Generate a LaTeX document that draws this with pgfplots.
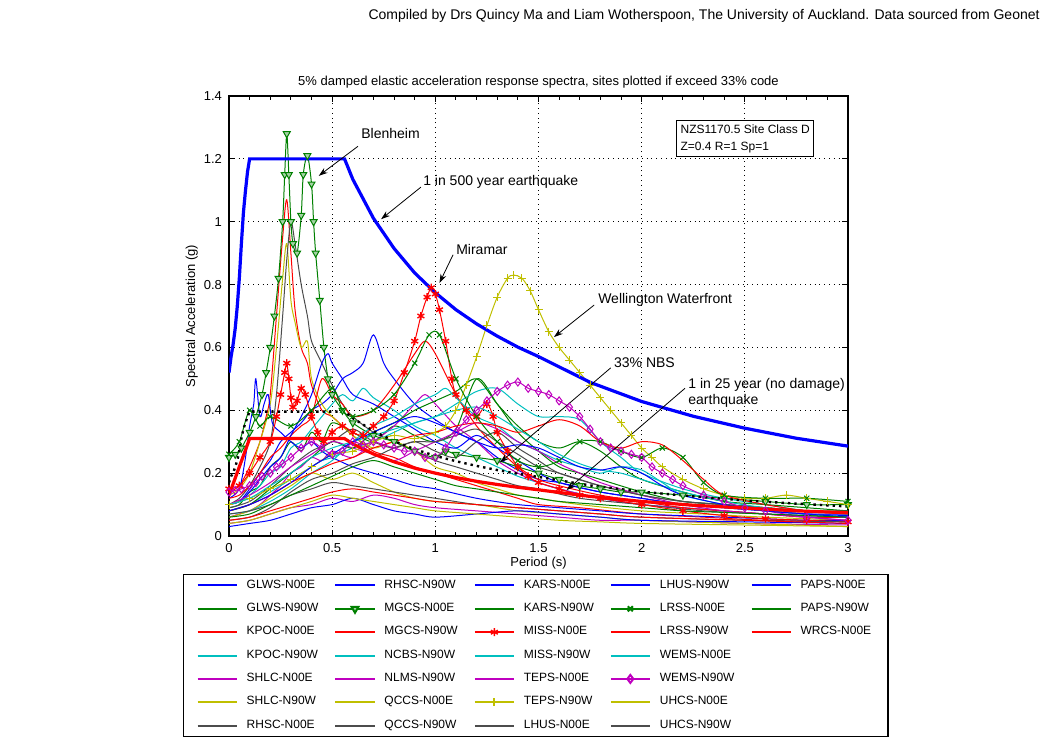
\documentclass[border=0pt]{standalone}
\usepackage{fontspec}
\setmainfont{Liberation Sans}
\usepackage{pgfplots}
\pgfplotsset{compat=1.18}
\usetikzlibrary{arrows.meta}

\definecolor{mb}{rgb}{0,0,1}
\definecolor{mg}{rgb}{0,0.5,0}
\definecolor{mr}{rgb}{1,0,0}
\definecolor{mc}{rgb}{0,0.75,0.75}
\definecolor{mm}{rgb}{0.75,0,0.75}
\definecolor{my}{rgb}{0.75,0.75,0}
\definecolor{mk}{rgb}{0.3,0.3,0.3}

\newcommand{\fa}{\fontsize{6.5}{7.5}\selectfont}
\newcommand{\fb}{\fontsize{7}{8}\selectfont}
\newcommand{\fl}{\fontsize{6}{7}\selectfont}
\newcommand{\fn}{\fontsize{6}{8.5}\selectfont}

\pgfplotsset{
  rec/.style={line width=0.5pt, smooth, mark=none},
  cb/.style={rec, color=mb}, cg/.style={rec, color=mg}, cr/.style={rec, color=mr},
  cc/.style={rec, color=mc}, cm/.style={rec, color=mm}, cy/.style={rec, color=my},
  ck/.style={rec, color=mk},
  mgt/.style={rec, color=mg, mark=triangle*, mark size=2pt, mark options={rotate=180, solid, fill=mg!35!white}},
  mrs/.style={rec, color=mr, mark=asterisk, mark size=2pt, mark options={line width=0.7pt}},
  myp/.style={rec, color=my, mark=+, mark size=2pt},
  mgx/.style={rec, color=mg, mark=x, mark size=1.8pt},
  mmd/.style={rec, color=mm, mark=diamond, mark size=2pt},
}
\tikzset{arr/.style={-{Stealth[length=4.5pt,width=3pt]}, line width=0.4pt, black}}

\begin{document}
\begin{tikzpicture}
\path[use as bounding box] (0,0) rectangle (525pt,-372pt);
\node[anchor=base east, font=\fb, inner sep=0pt] at (520pt,-9.5pt)
  {Compiled by Drs Quincy Ma and Liam Wotherspoon, The University of Auckland. Data sourced from Geonet};
\begin{axis}[
    at={(114.5pt,-268pt)}, anchor=south west,
    scale only axis, width=309.5pt, height=220pt,
    xmin=0, xmax=3, ymin=0, ymax=1.4,
    xtick={0,0.5,1,1.5,2,2.5,3},
    ytick={0,0.2,0.4,0.6,0.8,1,1.2,1.4},
    minor x tick num=4,
    grid=major, major grid style={black, dotted, line width=0.5pt},
    axis line style={line width=0.6pt},
    tick style={black, line width=0.5pt},
    major tick length=3pt, minor tick length=1.8pt,
    tick label style={font=\fa, /pgf/number format/assume math mode=true},
    label style={font=\fa},
    xlabel={Period (s)}, ylabel={Spectral Acceleration (g)},
    xlabel style={at={(axis description cs:0.5,-0.061)}, anchor=center},
    ylabel style={at={(axis description cs:-0.06,0.5)}, anchor=center},
    title={5\% damped elastic acceleration response spectra, sites plotted if exceed 33\% code},
    title style={font=\fa, at={(axis description cs:0.5,1)}, anchor=base, yshift=-0.5pt},
    legend columns=5, legend cell align=left,
    legend image code/.code={\draw[mark repeat=2,mark phase=2,#1,line width=1pt] plot coordinates {(0pt,0pt) (9.75pt,0pt) (19.5pt,0pt)};},
    legend style={at={(axis description cs:-0.0743,-0.0864)}, anchor=north west,
      draw=black, line width=0.7pt, font=\fl, inner xsep=6.5pt, inner ysep=0.5pt, row sep=2.0pt,
      /tikz/every odd column/.append style={column sep=2.5pt},
      /tikz/every even column/.append style={column sep=6pt}},
]
% ---- individual records ----
\addplot[cb, forget plot] coordinates {(0,0.1)(0.05,0.11)(0.1,0.15)(0.15,0.2)(0.2,0.24)(0.25,0.3)(0.3,0.33)(0.35,0.36)(0.4,0.4)(0.45,0.42)(0.5,0.45)(0.55,0.5)(0.6,0.52)(0.65,0.55)(0.7,0.64)(0.75,0.55)(0.8,0.5)(0.9,0.42)(1.0,0.37)(1.1,0.33)(1.2,0.3)(1.3,0.25)(1.4,0.21)(1.5,0.18)(1.6,0.17)(1.8,0.14)(2.0,0.12)(2.2,0.1)(2.4,0.09)(2.6,0.08)(2.8,0.07)(3.0,0.07)};
\addplot[cg, forget plot] coordinates {(0,0.09)(0.05,0.1)(0.1,0.14)(0.15,0.16)(0.2,0.22)(0.25,0.25)(0.3,0.3)(0.35,0.27)(0.4,0.33)(0.45,0.3)(0.5,0.36)(0.6,0.33)(0.7,0.3)(0.8,0.35)(0.9,0.32)(1.0,0.3)(1.1,0.34)(1.2,0.5)(1.3,0.42)(1.4,0.33)(1.5,0.27)(1.6,0.22)(1.7,0.2)(1.8,0.18)(2.0,0.14)(2.2,0.11)(2.4,0.1)(2.6,0.09)(2.8,0.08)(3.0,0.08)};
\addplot[cr, forget plot] coordinates {(0,0.14)(0.05,0.16)(0.1,0.22)(0.15,0.3)(0.18,0.38)(0.2,0.45)(0.23,0.7)(0.26,0.95)(0.28,1.07)(0.3,0.9)(0.32,0.72)(0.35,0.6)(0.38,0.55)(0.4,0.48)(0.45,0.4)(0.5,0.38)(0.55,0.35)(0.6,0.32)(0.7,0.27)(0.8,0.25)(0.9,0.22)(1.0,0.2)(1.1,0.18)(1.2,0.16)(1.3,0.14)(1.4,0.12)(1.5,0.1)(1.7,0.09)(2.0,0.07)(2.3,0.06)(2.6,0.05)(3.0,0.045)};
\addplot[cc, forget plot] coordinates {(0,0.1)(0.05,0.11)(0.1,0.13)(0.15,0.16)(0.2,0.2)(0.25,0.22)(0.3,0.28)(0.35,0.3)(0.4,0.34)(0.45,0.38)(0.5,0.42)(0.55,0.45)(0.6,0.43)(0.65,0.47)(0.7,0.44)(0.8,0.4)(0.9,0.35)(1.0,0.32)(1.1,0.28)(1.2,0.25)(1.3,0.22)(1.4,0.19)(1.5,0.17)(1.6,0.15)(1.8,0.12)(2.0,0.1)(2.2,0.09)(2.4,0.08)(2.6,0.07)(2.8,0.065)(3.0,0.06)};
\addplot[cm, forget plot] coordinates {(0,0.06)(0.05,0.07)(0.1,0.08)(0.15,0.1)(0.2,0.13)(0.25,0.16)(0.3,0.2)(0.35,0.22)(0.4,0.25)(0.45,0.24)(0.5,0.27)(0.6,0.25)(0.7,0.3)(0.8,0.35)(0.9,0.42)(0.95,0.45)(1.0,0.42)(1.1,0.35)(1.2,0.3)(1.3,0.24)(1.4,0.2)(1.5,0.17)(1.6,0.15)(1.8,0.12)(2.0,0.1)(2.2,0.09)(2.4,0.08)(2.6,0.07)(2.8,0.06)(3.0,0.06)};
\addplot[cy, forget plot] coordinates {(0,0.13)(0.05,0.15)(0.1,0.2)(0.15,0.3)(0.2,0.42)(0.23,0.6)(0.26,0.82)(0.28,0.93)(0.3,0.75)(0.32,0.68)(0.35,0.6)(0.38,0.62)(0.4,0.5)(0.45,0.42)(0.5,0.38)(0.55,0.35)(0.6,0.32)(0.7,0.28)(0.8,0.3)(0.9,0.27)(1.0,0.22)(1.1,0.2)(1.2,0.17)(1.3,0.15)(1.4,0.13)(1.5,0.12)(1.7,0.1)(2.0,0.08)(2.3,0.07)(2.6,0.06)(3.0,0.05)};
\addplot[ck, forget plot] coordinates {(0,0.1)(0.05,0.12)(0.1,0.16)(0.15,0.22)(0.2,0.3)(0.23,0.45)(0.26,0.7)(0.28,0.88)(0.3,1.0)(0.32,0.93)(0.35,0.8)(0.38,0.7)(0.4,0.62)(0.45,0.55)(0.5,0.48)(0.55,0.42)(0.6,0.38)(0.7,0.33)(0.8,0.3)(0.9,0.27)(1.0,0.24)(1.1,0.22)(1.2,0.2)(1.3,0.18)(1.4,0.16)(1.5,0.15)(1.7,0.12)(2.0,0.1)(2.3,0.08)(2.6,0.07)(3.0,0.06)};
\addplot[cb, forget plot] coordinates {(0,0.12)(0.05,0.15)(0.08,0.25)(0.1,0.35)(0.12,0.42)(0.13,0.5)(0.15,0.38)(0.17,0.42)(0.19,0.45)(0.21,0.36)(0.25,0.33)(0.3,0.3)(0.35,0.28)(0.4,0.3)(0.45,0.27)(0.5,0.25)(0.6,0.22)(0.7,0.2)(0.8,0.18)(0.9,0.16)(1.0,0.15)(1.2,0.12)(1.4,0.1)(1.6,0.09)(1.8,0.08)(2.0,0.07)(2.4,0.06)(2.8,0.05)(3.0,0.05)};
\addplot[mgt, forget plot] coordinates {(0,0.25)(0.03,0.26)(0.06,0.28)(0.1,0.33)(0.13,0.38)(0.16,0.45)(0.18,0.52)(0.2,0.6)(0.22,0.7)(0.24,0.82)(0.26,1.0)(0.27,1.15)(0.28,1.28)(0.29,1.15)(0.3,1.0)(0.31,0.93)(0.33,0.9)(0.35,1.02)(0.36,1.15)(0.38,1.21)(0.4,1.12)(0.41,1.0)(0.42,0.9)(0.44,0.75)(0.46,0.6)(0.48,0.5)(0.5,0.45)(0.55,0.4)(0.6,0.36)(0.7,0.32)(0.8,0.3)(0.9,0.27)(1.0,0.25)(1.05,0.27)(1.1,0.26)(1.2,0.25)(1.3,0.24)(1.4,0.22)(1.5,0.2)(1.6,0.18)(1.7,0.16)(1.8,0.15)(1.9,0.14)(2.0,0.14)(2.2,0.13)(2.4,0.12)(2.6,0.11)(2.8,0.1)(3.0,0.1)};
\addplot[cr, forget plot] coordinates {(0,0.12)(0.05,0.13)(0.1,0.16)(0.15,0.2)(0.2,0.25)(0.25,0.28)(0.3,0.32)(0.35,0.35)(0.4,0.38)(0.45,0.5)(0.5,0.45)(0.55,0.42)(0.6,0.38)(0.7,0.4)(0.8,0.48)(0.9,0.58)(0.95,0.62)(1.0,0.58)(1.1,0.45)(1.2,0.35)(1.3,0.28)(1.4,0.22)(1.5,0.18)(1.6,0.16)(1.8,0.13)(2.0,0.11)(2.2,0.09)(2.4,0.08)(2.6,0.07)(2.8,0.06)(3.0,0.06)};
\addplot[cc, forget plot] coordinates {(0,0.08)(0.05,0.09)(0.1,0.1)(0.15,0.12)(0.2,0.14)(0.25,0.16)(0.3,0.18)(0.35,0.2)(0.4,0.22)(0.45,0.24)(0.5,0.25)(0.6,0.28)(0.7,0.3)(0.8,0.33)(0.9,0.36)(1.0,0.38)(1.1,0.42)(1.2,0.46)(1.3,0.47)(1.4,0.42)(1.5,0.38)(1.6,0.38)(1.7,0.37)(1.8,0.3)(1.9,0.25)(2.0,0.2)(2.2,0.15)(2.4,0.12)(2.6,0.1)(2.8,0.08)(3.0,0.07)};
\addplot[cm, forget plot] coordinates {(0,0.04)(0.1,0.05)(0.2,0.07)(0.3,0.09)(0.4,0.1)(0.5,0.12)(0.6,0.11)(0.7,0.13)(0.8,0.12)(0.9,0.1)(1.0,0.09)(1.2,0.08)(1.4,0.07)(1.6,0.06)(1.8,0.05)(2.0,0.05)(2.5,0.04)(3.0,0.035)};
\addplot[cy, forget plot] coordinates {(0,0.06)(0.1,0.08)(0.2,0.12)(0.3,0.16)(0.4,0.2)(0.5,0.18)(0.6,0.2)(0.7,0.17)(0.8,0.14)(0.9,0.12)(1.0,0.11)(1.2,0.1)(1.4,0.08)(1.6,0.07)(1.8,0.06)(2.0,0.05)(2.5,0.04)(3.0,0.03)};
\addplot[ck, forget plot] coordinates {(0,0.09)(0.1,0.11)(0.2,0.16)(0.3,0.22)(0.4,0.27)(0.5,0.3)(0.6,0.34)(0.7,0.3)(0.8,0.28)(0.9,0.3)(1.0,0.27)(1.1,0.25)(1.2,0.3)(1.3,0.33)(1.4,0.28)(1.5,0.24)(1.6,0.2)(1.8,0.16)(2.0,0.13)(2.2,0.11)(2.4,0.1)(2.6,0.09)(2.8,0.08)(3.0,0.07)};
\addplot[cb, forget plot] coordinates {(0,0.1)(0.05,0.11)(0.1,0.14)(0.15,0.18)(0.2,0.22)(0.25,0.25)(0.3,0.32)(0.35,0.38)(0.4,0.45)(0.45,0.55)(0.48,0.58)(0.5,0.55)(0.55,0.5)(0.6,0.45)(0.7,0.42)(0.8,0.38)(0.9,0.34)(1.0,0.3)(1.1,0.28)(1.2,0.32)(1.3,0.28)(1.4,0.24)(1.5,0.2)(1.6,0.17)(1.8,0.14)(2.0,0.12)(2.2,0.1)(2.4,0.09)(2.6,0.08)(2.8,0.07)(3.0,0.065)};
\addplot[cg, forget plot] coordinates {(0,0.08)(0.1,0.1)(0.2,0.15)(0.3,0.2)(0.4,0.25)(0.5,0.3)(0.6,0.28)(0.7,0.33)(0.8,0.36)(0.9,0.4)(1.0,0.43)(1.1,0.46)(1.2,0.5)(1.3,0.42)(1.4,0.35)(1.5,0.3)(1.6,0.28)(1.7,0.3)(1.8,0.27)(1.9,0.22)(2.0,0.18)(2.2,0.14)(2.4,0.11)(2.6,0.1)(2.8,0.09)(3.0,0.08)};
\addplot[mrs, forget plot] coordinates {(0,0.15)(0.05,0.16)(0.1,0.2)(0.15,0.25)(0.2,0.3)(0.23,0.38)(0.25,0.45)(0.27,0.52)(0.28,0.55)(0.29,0.5)(0.3,0.44)(0.31,0.41)(0.33,0.43)(0.35,0.47)(0.37,0.45)(0.4,0.38)(0.43,0.33)(0.46,0.3)(0.5,0.33)(0.55,0.35)(0.6,0.33)(0.65,0.32)(0.7,0.35)(0.75,0.38)(0.8,0.43)(0.85,0.52)(0.9,0.62)(0.93,0.7)(0.96,0.76)(0.98,0.79)(1.0,0.77)(1.02,0.72)(1.05,0.62)(1.08,0.5)(1.1,0.45)(1.15,0.4)(1.2,0.38)(1.25,0.42)(1.28,0.38)(1.3,0.33)(1.35,0.27)(1.4,0.22)(1.45,0.19)(1.5,0.17)(1.6,0.15)(1.7,0.13)(1.8,0.12)(2.0,0.1)(2.2,0.08)(2.4,0.065)(2.6,0.055)(2.8,0.05)(3.0,0.045)};
\addplot[cc, forget plot] coordinates {(0,0.07)(0.1,0.08)(0.2,0.11)(0.3,0.15)(0.4,0.2)(0.5,0.24)(0.6,0.3)(0.7,0.35)(0.8,0.38)(0.9,0.42)(1.0,0.45)(1.05,0.47)(1.1,0.44)(1.2,0.38)(1.3,0.35)(1.4,0.3)(1.5,0.27)(1.6,0.24)(1.7,0.22)(1.8,0.2)(1.9,0.22)(2.0,0.21)(2.1,0.17)(2.2,0.13)(2.4,0.1)(2.6,0.08)(2.8,0.07)(3.0,0.06)};
\addplot[cm, forget plot] coordinates {(0,0.1)(0.1,0.13)(0.2,0.17)(0.3,0.22)(0.4,0.26)(0.5,0.3)(0.6,0.28)(0.7,0.26)(0.8,0.24)(0.9,0.27)(1.0,0.3)(1.1,0.33)(1.2,0.36)(1.3,0.34)(1.4,0.3)(1.5,0.27)(1.6,0.23)(1.7,0.2)(1.8,0.17)(2.0,0.13)(2.2,0.1)(2.4,0.08)(2.6,0.07)(2.8,0.06)(3.0,0.05)};
\addplot[myp, forget plot] coordinates {(0,0.1)(0.1,0.12)(0.2,0.15)(0.3,0.18)(0.4,0.22)(0.5,0.26)(0.6,0.27)(0.7,0.3)(0.8,0.32)(0.9,0.31)(1.0,0.33)(1.05,0.35)(1.1,0.4)(1.15,0.48)(1.2,0.57)(1.25,0.67)(1.3,0.76)(1.35,0.82)(1.38,0.83)(1.42,0.82)(1.46,0.78)(1.5,0.72)(1.55,0.65)(1.6,0.6)(1.65,0.56)(1.7,0.52)(1.75,0.48)(1.8,0.44)(1.85,0.4)(1.9,0.36)(1.95,0.32)(2.0,0.28)(2.05,0.25)(2.1,0.22)(2.2,0.18)(2.3,0.15)(2.4,0.13)(2.5,0.12)(2.6,0.12)(2.7,0.13)(2.8,0.12)(2.9,0.11)(3.0,0.1)};
\addplot[ck, forget plot] coordinates {(0,0.05)(0.1,0.06)(0.2,0.09)(0.3,0.14)(0.4,0.18)(0.5,0.2)(0.6,0.23)(0.7,0.25)(0.8,0.28)(0.9,0.3)(1.0,0.3)(1.1,0.32)(1.2,0.34)(1.3,0.3)(1.4,0.26)(1.5,0.22)(1.6,0.2)(1.7,0.18)(1.8,0.16)(2.0,0.13)(2.2,0.11)(2.4,0.1)(2.6,0.09)(2.8,0.08)(3.0,0.08)};
\addplot[cb, forget plot] coordinates {(0,0.03)(0.1,0.04)(0.2,0.05)(0.3,0.07)(0.4,0.09)(0.5,0.1)(0.6,0.12)(0.7,0.1)(0.8,0.08)(0.9,0.07)(1.0,0.06)(1.2,0.07)(1.4,0.08)(1.6,0.07)(1.8,0.06)(2.0,0.05)(2.5,0.045)(3.0,0.04)};
\addplot[mgx, forget plot] coordinates {(0,0.26)(0.05,0.3)(0.1,0.4)(0.15,0.35)(0.2,0.38)(0.3,0.35)(0.4,0.4)(0.5,0.47)(0.55,0.4)(0.6,0.38)(0.7,0.4)(0.8,0.45)(0.9,0.55)(0.97,0.64)(1.02,0.64)(1.1,0.5)(1.2,0.38)(1.3,0.3)(1.4,0.24)(1.5,0.22)(1.6,0.24)(1.7,0.3)(1.8,0.3)(1.9,0.27)(2.0,0.25)(2.1,0.28)(2.2,0.25)(2.3,0.17)(2.4,0.13)(2.6,0.12)(2.8,0.12)(3.0,0.11)};
\addplot[cr, forget plot] coordinates {(0,0.08)(0.1,0.1)(0.2,0.13)(0.3,0.17)(0.4,0.2)(0.5,0.23)(0.6,0.25)(0.7,0.28)(0.8,0.3)(0.9,0.32)(1.0,0.33)(1.1,0.35)(1.2,0.36)(1.3,0.35)(1.4,0.33)(1.5,0.35)(1.6,0.37)(1.7,0.35)(1.8,0.3)(1.9,0.28)(2.0,0.3)(2.1,0.29)(2.2,0.24)(2.3,0.18)(2.4,0.13)(2.6,0.1)(2.8,0.08)(3.0,0.07)};
\addplot[cc, forget plot] coordinates {(0,0.1)(0.1,0.12)(0.2,0.16)(0.3,0.2)(0.4,0.25)(0.5,0.28)(0.6,0.3)(0.7,0.32)(0.8,0.34)(0.9,0.36)(1.0,0.38)(1.1,0.4)(1.2,0.41)(1.3,0.38)(1.4,0.34)(1.5,0.3)(1.6,0.26)(1.7,0.23)(1.8,0.21)(1.9,0.2)(2.0,0.18)(2.2,0.14)(2.4,0.11)(2.6,0.09)(2.8,0.08)(3.0,0.07)};
\addplot[mmd, forget plot] coordinates {(0,0.14)(0.03,0.145)(0.06,0.15)(0.1,0.16)(0.13,0.17)(0.16,0.19)(0.2,0.2)(0.23,0.22)(0.26,0.23)(0.3,0.25)(0.35,0.28)(0.4,0.3)(0.45,0.28)(0.5,0.26)(0.55,0.27)(0.6,0.3)(0.65,0.29)(0.7,0.3)(0.75,0.29)(0.8,0.28)(0.85,0.27)(0.9,0.27)(0.95,0.25)(1.0,0.25)(1.05,0.28)(1.1,0.33)(1.15,0.37)(1.2,0.4)(1.25,0.43)(1.3,0.46)(1.35,0.48)(1.4,0.49)(1.45,0.47)(1.5,0.46)(1.55,0.45)(1.6,0.43)(1.65,0.41)(1.7,0.38)(1.75,0.34)(1.8,0.3)(1.85,0.28)(1.9,0.27)(1.95,0.26)(2.0,0.25)(2.05,0.22)(2.1,0.2)(2.15,0.18)(2.2,0.16)(2.3,0.13)(2.4,0.11)(2.5,0.09)(2.6,0.08)(2.8,0.06)(3.0,0.05)};
\addplot[cy, forget plot] coordinates {(0,0.04)(0.1,0.05)(0.2,0.07)(0.3,0.09)(0.4,0.11)(0.5,0.13)(0.6,0.12)(0.7,0.11)(0.8,0.1)(0.9,0.09)(1.0,0.08)(1.2,0.07)(1.4,0.06)(1.6,0.05)(1.8,0.045)(2.0,0.04)(2.5,0.035)(3.0,0.03)};
\addplot[ck, forget plot] coordinates {(0,0.07)(0.1,0.08)(0.2,0.1)(0.3,0.13)(0.4,0.15)(0.5,0.17)(0.6,0.16)(0.7,0.15)(0.8,0.14)(0.9,0.13)(1.0,0.12)(1.2,0.1)(1.4,0.09)(1.6,0.08)(1.8,0.07)(2.0,0.06)(2.5,0.05)(3.0,0.045)};
\addplot[cb, forget plot] coordinates {(0,0.08)(0.1,0.1)(0.2,0.13)(0.3,0.17)(0.4,0.22)(0.5,0.26)(0.6,0.3)(0.7,0.33)(0.8,0.36)(0.9,0.38)(1.0,0.36)(1.1,0.33)(1.2,0.3)(1.3,0.28)(1.4,0.29)(1.5,0.28)(1.6,0.25)(1.7,0.22)(1.8,0.21)(1.9,0.22)(2.0,0.2)(2.1,0.16)(2.2,0.13)(2.4,0.1)(2.6,0.08)(2.8,0.07)(3.0,0.06)};
\addplot[cg, forget plot] coordinates {(0,0.06)(0.1,0.07)(0.2,0.1)(0.3,0.13)(0.4,0.16)(0.5,0.19)(0.6,0.22)(0.7,0.24)(0.8,0.22)(0.9,0.2)(1.0,0.18)(1.1,0.16)(1.2,0.15)(1.3,0.14)(1.4,0.13)(1.5,0.12)(1.6,0.11)(1.8,0.1)(2.0,0.09)(2.2,0.08)(2.4,0.075)(2.6,0.07)(2.8,0.065)(3.0,0.06)};
\addplot[cr, forget plot] coordinates {(0,0.05)(0.1,0.06)(0.2,0.08)(0.3,0.1)(0.4,0.12)(0.5,0.14)(0.6,0.15)(0.7,0.14)(0.8,0.13)(0.9,0.12)(1.0,0.11)(1.2,0.1)(1.4,0.09)(1.6,0.08)(1.8,0.07)(2.0,0.06)(2.5,0.05)(3.0,0.04)};
% ---- code spectra ----
\addplot[black, dotted, line width=1.2pt, forget plot] coordinates {(0,0.17)(0.01,0.19)(0.02,0.2)(0.03,0.22)(0.04,0.24)(0.05,0.27)(0.06,0.31)(0.07,0.34)(0.08,0.36)(0.09,0.38)(0.1,0.396)(0.56,0.396)(0.6,0.375)(0.7,0.334)(0.8,0.302)(0.9,0.276)(1.0,0.255)(1.1,0.238)(1.2,0.223)(1.3,0.21)(1.4,0.198)(1.5,0.188)(1.75,0.161)(2.0,0.141)(2.25,0.126)(2.5,0.113)(2.75,0.103)(3.0,0.094)};
\addplot[mr, line width=1.6pt, forget plot] coordinates {(0,0.13)(0.1,0.31)(0.56,0.31)(0.6,0.293)(0.7,0.261)(0.8,0.236)(0.9,0.216)(1.0,0.2)(1.1,0.186)(1.2,0.174)(1.3,0.164)(1.4,0.155)(1.5,0.147)(1.75,0.126)(2.0,0.11)(2.25,0.098)(2.5,0.089)(2.75,0.08)(3.0,0.074)};
\addplot[mb, line width=1.6pt, forget plot] coordinates {(0,0.52)(0.01,0.57)(0.02,0.61)(0.03,0.66)(0.04,0.73)(0.05,0.82)(0.06,0.93)(0.07,1.03)(0.08,1.1)(0.09,1.16)(0.1,1.2)(0.56,1.2)(0.6,1.135)(0.7,1.011)(0.8,0.915)(0.9,0.837)(1.0,0.774)(1.1,0.72)(1.2,0.675)(1.3,0.636)(1.4,0.601)(1.5,0.571)(1.75,0.489)(2.0,0.428)(2.25,0.381)(2.5,0.343)(2.75,0.311)(3.0,0.286)};
% ---- annotations ----
\draw[arr] (axis cs:0.625,1.24) -- (axis cs:0.435,1.146);
\node[anchor=west, font=\fb, inner sep=1pt] at (axis cs:0.63,1.282) {Blenheim};
\draw[arr] (axis cs:0.93,1.11) -- (axis cs:0.737,1.008);
\node[anchor=west, font=\fb, inner sep=1pt] at (axis cs:0.93,1.126) {1 in 500 year earthquake};
\draw[arr] (axis cs:1.086,0.895) -- (axis cs:1.02,0.805);
\node[anchor=west, font=\fb, inner sep=1pt] at (axis cs:1.09,0.913) {Miramar};
\draw[arr] (axis cs:1.77,0.735) -- (axis cs:1.575,0.633);
\node[anchor=west, font=\fb, inner sep=1pt] at (axis cs:1.778,0.75) {Wellington Waterfront};
\draw[arr] (axis cs:1.85,0.535) -- (axis cs:1.314,0.234);
\node[anchor=west, font=\fb, inner sep=1pt] at (axis cs:1.855,0.55) {33\% NBS};
\draw[arr] (axis cs:2.21,0.47) -- (axis cs:1.636,0.146);
\node[anchor=west, font=\fb, inner sep=1pt, align=left] at (axis cs:2.215,0.455) {1 in 25 year (no damage)\\earthquake};
\node[anchor=north west, draw=black, line width=0.5pt, fill=white, font=\fn, align=left, inner sep=2pt]
  at (axis cs:2.167,1.324) {NZS1170.5 Site Class D\\Z=0.4 R=1 Sp=1};
% ---- legend (column-major order, laid out row by row) ----
\addlegendimage{cb}\addlegendentry{GLWS-N00E}
\addlegendimage{cb}\addlegendentry{RHSC-N90W}
\addlegendimage{cb}\addlegendentry{KARS-N00E}
\addlegendimage{cb}\addlegendentry{LHUS-N90W}
\addlegendimage{cb}\addlegendentry{PAPS-N00E}
\addlegendimage{cg}\addlegendentry{GLWS-N90W}
\addlegendimage{mgt}\addlegendentry{MGCS-N00E}
\addlegendimage{cg}\addlegendentry{KARS-N90W}
\addlegendimage{mgx}\addlegendentry{LRSS-N00E}
\addlegendimage{cg}\addlegendentry{PAPS-N90W}
\addlegendimage{cr}\addlegendentry{KPOC-N00E}
\addlegendimage{cr}\addlegendentry{MGCS-N90W}
\addlegendimage{mrs}\addlegendentry{MISS-N00E}
\addlegendimage{cr}\addlegendentry{LRSS-N90W}
\addlegendimage{cr}\addlegendentry{WRCS-N00E}
\addlegendimage{cc}\addlegendentry{KPOC-N90W}
\addlegendimage{cc}\addlegendentry{NCBS-N90W}
\addlegendimage{cc}\addlegendentry{MISS-N90W}
\addlegendimage{cc}\addlegendentry{WEMS-N00E}
\addlegendimage{empty legend}\addlegendentry{}
\addlegendimage{cm}\addlegendentry{SHLC-N00E}
\addlegendimage{cm}\addlegendentry{NLMS-N90W}
\addlegendimage{cm}\addlegendentry{TEPS-N00E}
\addlegendimage{mmd}\addlegendentry{WEMS-N90W}
\addlegendimage{empty legend}\addlegendentry{}
\addlegendimage{cy}\addlegendentry{SHLC-N90W}
\addlegendimage{cy}\addlegendentry{QCCS-N00E}
\addlegendimage{myp}\addlegendentry{TEPS-N90W}
\addlegendimage{cy}\addlegendentry{UHCS-N00E}
\addlegendimage{empty legend}\addlegendentry{}
\addlegendimage{ck}\addlegendentry{RHSC-N00E}
\addlegendimage{ck}\addlegendentry{QCCS-N90W}
\addlegendimage{ck}\addlegendentry{LHUS-N00E}
\addlegendimage{ck}\addlegendentry{UHCS-N90W}
\end{axis}
\end{tikzpicture}
\end{document}
